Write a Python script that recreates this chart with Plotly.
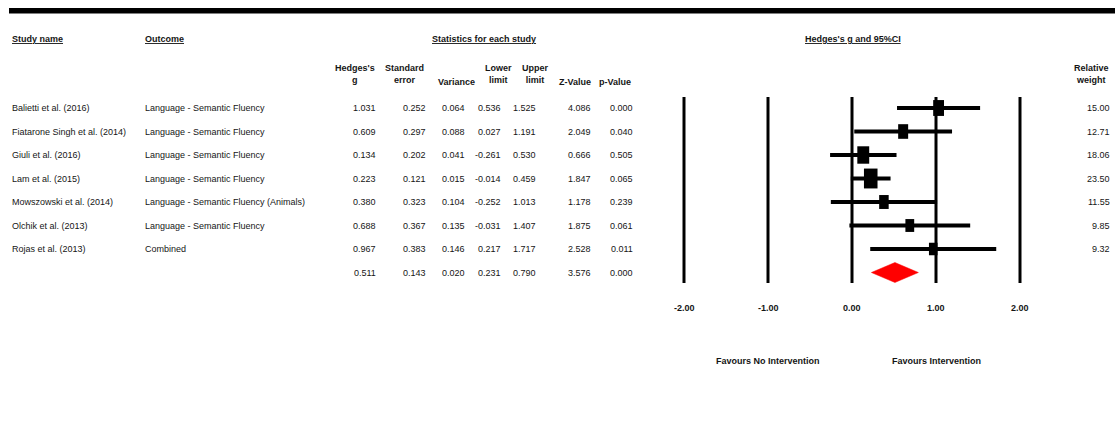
import plotly.graph_objects as go

# ---- data -------------------------------------------------------------
studies = ["Balietti et al. (2016)", "Fiatarone Singh et al. (2014)", "Giuli et al. (2016)",
           "Lam et al. (2015)", "Mowszowski et al. (2014)", "Olchik et al. (2013)",
           "Rojas et al. (2013)"]
outcomes = ["Language - Semantic Fluency", "Language - Semantic Fluency",
            "Language - Semantic Fluency", "Language - Semantic Fluency",
            "Language - Semantic Fluency (Animals)", "Language - Semantic Fluency",
            "Combined"]
hedges_g = [1.031, 0.609, 0.134, 0.223, 0.380, 0.688, 0.967]
std_err = [0.252, 0.297, 0.202, 0.121, 0.323, 0.367, 0.383]
variance = [0.064, 0.088, 0.041, 0.015, 0.104, 0.135, 0.146]
lower = [0.536, 0.027, -0.261, -0.014, -0.252, -0.031, 0.217]
upper = [1.525, 1.191, 0.530, 0.459, 1.013, 1.407, 1.717]
z_value = [4.086, 2.049, 0.666, 1.847, 1.178, 1.875, 2.528]
p_value = [0.000, 0.040, 0.505, 0.065, 0.239, 0.061, 0.011]
rel_weight = [15.00, 12.71, 18.06, 23.50, 11.55, 9.85, 9.32]

pooled = {"g": 0.511, "se": 0.143, "var": 0.020, "lower": 0.231,
          "upper": 0.790, "z": 3.576, "p": 0.000}

x_ticks = [-2, -1, 0, 1, 2]

# ---- geometry ---------------------------------------------------------
W, H = 1115, 421
PX_PER_UNIT = 84.0          # horizontal pixels per unit of Hedges's g
ZERO_PX = 852.0             # pixel column of g = 0
ROW0_PX = 108.0             # pixel row of the first study
ROW_PX = 23.5               # pixel distance between rows
LINE_TOP, LINE_BOTTOM = 97.0, 283.0

x_range = [(0 - ZERO_PX) / PX_PER_UNIT, (W - ZERO_PX) / PX_PER_UNIT]
y_range = [(H - ROW0_PX) / ROW_PX, (0 - ROW0_PX) / ROW_PX]   # reversed: first study on top


def px_x(p):
    return p / W


def px_y(p):
    return 1 - p / H


def row_of_px(p):
    return (p - ROW0_PX) / ROW_PX


FONT = "Liberation Sans, Arial, sans-serif"
FS = 9
TXT = "#151515"
n = len(studies)
pooled_row = n

fig = go.Figure()

# vertical reference lines at each tick
vx, vy = [], []
for t in x_ticks:
    vx += [t, t, None]
    vy += [row_of_px(LINE_TOP), row_of_px(LINE_BOTTOM), None]
fig.add_trace(go.Scatter(x=vx, y=vy, mode="lines", line=dict(color="black", width=3),
                         hoverinfo="skip", showlegend=False))

# 95% confidence intervals
cx, cy = [], []
for i in range(n):
    cx += [lower[i], upper[i], None]
    cy += [i, i, None]
fig.add_trace(go.Scatter(x=cx, y=cy, mode="lines", line=dict(color="black", width=4),
                         hoverinfo="skip", showlegend=False))

# study boxes, sized by relative weight
shapes = []
for i in range(n):
    s = rel_weight[i] ** 0.5
    hw = 2.8 * s / 2 / PX_PER_UNIT
    hh = 4.1 * s / 2 / ROW_PX
    shapes.append(dict(type="rect", xref="x", yref="y",
                       x0=hedges_g[i] - hw, x1=hedges_g[i] + hw,
                       y0=i - hh, y1=i + hh,
                       fillcolor="black", line=dict(width=0)))

# pooled estimate diamond
dh = 10 / ROW_PX
fig.add_trace(go.Scatter(
    x=[pooled["lower"], pooled["g"], pooled["upper"], pooled["g"], pooled["lower"]],
    y=[pooled_row, pooled_row - dh, pooled_row, pooled_row + dh, pooled_row],
    mode="lines", fill="toself", fillcolor="red", line=dict(color="red", width=0.5),
    hoverinfo="skip", showlegend=False))

# heavy rule across the top
shapes.append(dict(type="rect", xref="paper", yref="paper",
                   x0=px_x(9), x1=1.0, y0=px_y(13.5), y1=px_y(8),
                   fillcolor="black", line=dict(width=0)))

ann = []


def text(x_px, y, s, anchor="left", size=FS, bold=False, yref="y"):
    ann.append(dict(x=px_x(x_px), y=y, xref="paper", yref=yref,
                    text=f"<b>{s}</b>" if bold else s,
                    showarrow=False, xanchor=anchor, yanchor="middle", align="center",
                    font=dict(family=FONT, size=size, color=TXT)))


# section headers
hdr_y = px_y(39)
text(10, hdr_y, "<u>Study name</u>", bold=True, yref="paper")
text(143, hdr_y, "<u>Outcome</u>", bold=True, yref="paper")
text(484, hdr_y, "<u>Statistics for each study</u>", anchor="center", bold=True, yref="paper")
text(853, hdr_y, "<u>Hedges's g and 95%CI</u>", anchor="center", bold=True, yref="paper")

# statistics columns: (header, header centre px, value right-edge px, values, pooled key)
cols = [
    ("Hedges's<br>g", 355, 378, hedges_g, "g"),
    ("Standard<br>error", 404, 428, std_err, "se"),
    ("Variance", 456, 467, variance, "var"),
    ("Lower<br>limit", 498, 503, lower, "lower"),
    ("Upper<br>limit", 535, 538, upper, "upper"),
    ("Z-Value", 575, 593, z_value, "z"),
    ("p-Value", 615, 635, p_value, "p"),
]
for head, centre, right, vals, key in cols:
    yy = px_y(73.5) if "<br>" in head else px_y(82)
    text(centre, yy, head, anchor="center", bold=True, yref="paper")
    for i, v in enumerate(vals):
        text(right, i, f"{v:.3f}", anchor="right")
    text(right, pooled_row, f"{pooled[key]:.3f}", anchor="right")

text(1091, px_y(73.5), "Relative<br>weight", anchor="center", bold=True, yref="paper")

for i in range(n):
    text(10, i, studies[i])
    text(143, i, outcomes[i])
    text(1112, i, f"{rel_weight[i]:.2f}", anchor="right")

# axis tick labels
for t in x_ticks:
    ann.append(dict(x=t, y=px_y(308), xref="x", yref="paper", text=f"<b>{t:.2f}</b>",
                    showarrow=False, xanchor="center", yanchor="middle",
                    font=dict(family=FONT, size=FS, color=TXT)))

text(768, px_y(361), "Favours No Intervention", anchor="center", bold=True, yref="paper")
text(936, px_y(361), "Favours Intervention", anchor="center", bold=True, yref="paper")

fig.update_layout(
    width=W, height=H,
    margin=dict(l=0, r=0, t=0, b=0),
    paper_bgcolor="white", plot_bgcolor="white",
    xaxis=dict(range=x_range, domain=[0, 1], visible=False, fixedrange=True),
    yaxis=dict(range=y_range, domain=[0, 1], visible=False, fixedrange=True),
    shapes=shapes, annotations=ann, showlegend=False,
)

fig.write_html("out.html")
